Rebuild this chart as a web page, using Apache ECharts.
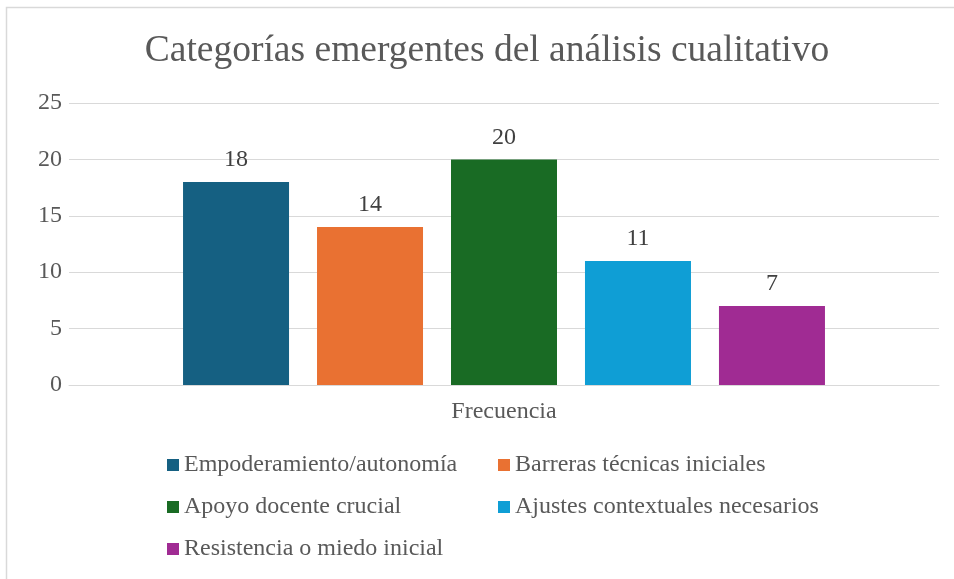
<!DOCTYPE html>
<html><head><meta charset="utf-8">
<script src="https://cdn.jsdelivr.net/npm/echarts@6/dist/echarts.min.js"></script>
<style>html,body{margin:0;padding:0;background:#fff}#c{width:954px;height:579px}</style>
</head><body><div id="c"></div>
<script>
const titleText = 'Categorías emergentes del análisis cualitativo';
const categories = ['Frecuencia'];
const seriesNames = ['Empoderamiento/autonomía','Barreras técnicas iniciales','Apoyo docente crucial','Ajustes contextuales necesarios','Resistencia o miedo inicial'];
const seriesValues = [18, 14, 20, 11, 7];
const seriesColors = ['#156082','#E97132','#196B24','#0F9ED5','#A02B93'];
const yTicks = [0, 5, 10, 15, 20, 25];

const FONT = "'Liberation Serif','Times New Roman',serif";
const chart = echarts.init(document.getElementById('c'), null, {renderer:'canvas'});
chart.setOption({
  animation:false,
  backgroundColor:'#fff',
  graphic:[{type:'polyline', shape:{points:[[6.5,580],[6.5,7.5],[960,7.5]]}, style:{stroke:'#d9d9d9', lineWidth:1.5, fill:null}, z:-1}],
  title:{text:titleText, left:482, top:27, textAlign:'center',
    textStyle:{fontFamily:FONT, fontSize:37.5, fontWeight:'normal', color:'#595959'}},
  grid:{left:69, right:15, top:103, bottom:194, containLabel:false},
  legend:{left:167, top:449, width:700, padding:0, itemWidth:12, itemHeight:12, itemGap:10, icon:'rect',
    textStyle:{fontFamily:FONT, fontSize:24, color:'#595959', width:304, lineHeight:32},
    data:seriesNames},
  xAxis:{type:'category', data:categories,
    axisLine:{lineStyle:{color:'#d9d9d9', width:1}}, axisTick:{show:false},
    axisLabel:{fontFamily:FONT, fontSize:24, color:'#595959', margin:15}},
  yAxis:{type:'value', min:yTicks[0], max:yTicks[yTicks.length-1], interval:5,
    axisLine:{show:false}, axisTick:{show:false},
    splitLine:{lineStyle:{color:'#d9d9d9', width:1}},
    axisLabel:{fontFamily:FONT, fontSize:24, color:'#595959', margin:7}},
  series: seriesNames.map((n,i)=>({
    name:n, type:'bar', data:[seriesValues[i]], barWidth:106, barGap:'26.4%',
    itemStyle:{color:seriesColors[i]},
    label:{show:true, position:'top', distance:10, fontFamily:FONT, fontSize:24, color:'#404040'}
  }))
});
</script></body></html>
